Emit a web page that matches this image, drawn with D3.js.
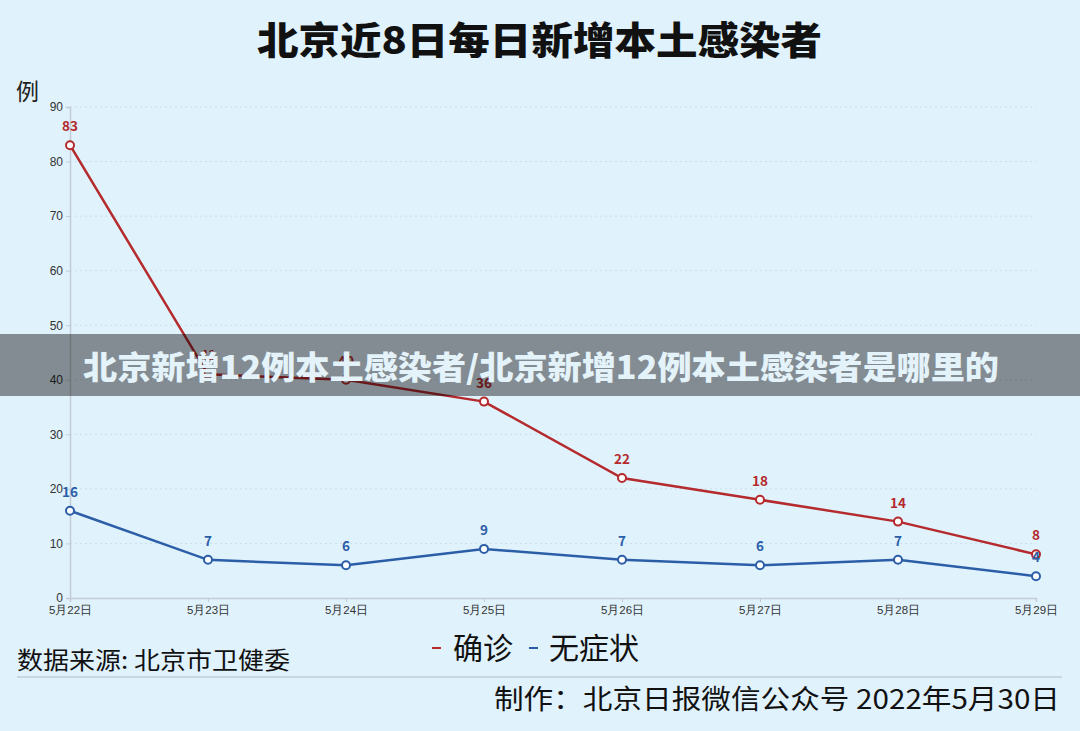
<!DOCTYPE html>
<html>
<head>
<meta charset="utf-8">
<script src="https://cdn.jsdelivr.net/npm/d3@7"></script>
<style>
  html, body { margin: 0; padding: 0; background: #e0f2fc; }
  svg { display: block; font-family: "Noto Sans CJK SC", "Noto Sans", sans-serif; }
</style>
</head>
<body>
<script>
// data
var days = ['5月22日', '5月23日', '5月24日', '5月25日', '5月26日', '5月27日', '5月28日', '5月29日'];
var confirmed = [83, 41, 40, 36, 22, 18, 14, 8];      // 确诊
var asymptomatic = [16, 7, 6, 9, 7, 6, 7, 4];          // 无症状
var yTicks = [0, 10, 20, 30, 40, 50, 60, 70, 80, 90];

var W = 1080, H = 731;
var red = '#b42a2d', blue = '#2c5ea8';

var svg = d3.select('body').append('svg').attr('width', W).attr('height', H);
svg.append('rect').attr('width', W).attr('height', H).attr('fill', '#e0f2fc');

var x = d3.scalePoint().domain(days).range([70, 1036]);
var y = d3.scaleLinear().domain([0, 90]).range([598, 107]);

// title
svg.append('text')
    .attr('x', 257).attr('y', 54)
    .attr('textLength', 565).attr('lengthAdjust', 'spacingAndGlyphs')
    .attr('font-size', 38).attr('font-weight', 900).attr('fill', '#111')
    .text('北京近8日每日新增本土感染者');

svg.append('text').attr('x', 16).attr('y', 100)
    .attr('font-size', 23).attr('fill', '#222').text('例');

// grid
svg.append('g').selectAll('line')
    .data(yTicks.slice(1))
    .enter().append('line')
    .attr('x1', 70).attr('x2', 1036)
    .attr('y1', function(d) { return y(d); })
    .attr('y2', function(d) { return y(d); })
    .attr('stroke', '#cbdde8').attr('stroke-dasharray', '2,3');

// axes
var yAxis = svg.append('g').attr('transform', 'translate(70,0)')
    .call(d3.axisLeft(y).tickValues(yTicks).tickSize(4).tickPadding(3));
yAxis.select('.domain').attr('stroke', '#c3ccd4').attr('stroke-width', 1.5);
yAxis.selectAll('.tick line').attr('stroke', '#c3ccd4');
yAxis.selectAll('text').attr('font-size', 12).attr('fill', '#333');

var xAxis = svg.append('g').attr('transform', 'translate(0,598)')
    .call(d3.axisBottom(x).tickSize(4).tickPadding(4));
xAxis.select('.domain').attr('stroke', '#c3ccd4').attr('stroke-width', 1.5);
xAxis.selectAll('.tick line').attr('stroke', '#c3ccd4');
xAxis.selectAll('text').attr('font-size', 11.5).attr('fill', '#333');

// lines and points
var series = [
    { name: '确诊', values: confirmed, color: red },
    { name: '无症状', values: asymptomatic, color: blue }
];

var line = d3.line()
    .x(function(d, i) { return x(days[i]); })
    .y(function(d) { return y(d); });

series.forEach(function(s) {
    svg.append('path').datum(s.values)
        .attr('d', line).attr('fill', 'none')
        .attr('stroke', s.color).attr('stroke-width', 2.5);
    svg.append('g').selectAll('circle')
        .data(s.values).enter().append('circle')
        .attr('cx', function(d, i) { return x(days[i]); })
        .attr('cy', function(d) { return y(d); })
        .attr('r', 4).attr('fill', '#fff')
        .attr('stroke', s.color).attr('stroke-width', 2);
});

series.forEach(function(s) {
    svg.append('g').selectAll('text')
        .data(s.values).enter().append('text')
        .attr('x', function(d, i) { return x(days[i]); })
        .attr('y', function(d) { return y(d) - 14; })
        .attr('text-anchor', 'middle')
        .attr('font-size', 13.5).attr('font-weight', 700)
        .attr('fill', s.color)
        .text(function(d) { return d; });
});

// legend
var legend = svg.append('g').attr('font-size', 30).attr('fill', '#111');
legend.append('line').attr('x1', 432).attr('x2', 441).attr('y1', 648).attr('y2', 648)
    .attr('stroke', red).attr('stroke-width', 2);
legend.append('text').attr('x', 453).attr('y', 659).text('确诊');
legend.append('line').attr('x1', 529).attr('x2', 538).attr('y1', 648).attr('y2', 648)
    .attr('stroke', blue).attr('stroke-width', 2);
legend.append('text').attr('x', 549).attr('y', 659).text('无症状');

// footer
svg.append('text').attr('x', 17).attr('y', 669)
    .attr('font-size', 24).attr('fill', '#111')
    .attr('textLength', 273).attr('lengthAdjust', 'spacingAndGlyphs')
    .text('数据来源: 北京市卫健委');
svg.append('line').attr('x1', 17).attr('x2', 1062).attr('y1', 677).attr('y2', 677)
    .attr('stroke', '#c9d6de').attr('stroke-width', 2);
svg.append('text').attr('x', 494).attr('y', 709)
    .attr('font-size', 27).attr('fill', '#111')
    .attr('textLength', 566).attr('lengthAdjust', 'spacingAndGlyphs')
    .text('制作：北京日报微信公众号 2022年5月30日');

// grey banner over the chart
svg.append('rect').attr('x', 0).attr('y', 334).attr('width', W).attr('height', 62)
    .attr('fill', '#000').attr('fill-opacity', 0.42);
svg.append('text').attr('x', 83).attr('y', 379)
    .attr('font-size', 32).attr('font-weight', 900).attr('fill', '#e4f2fa')
    .attr('textLength', 916).attr('lengthAdjust', 'spacingAndGlyphs')
    .text('北京新增12例本土感染者/北京新增12例本土感染者是哪里的');
</script>
</body>
</html>
